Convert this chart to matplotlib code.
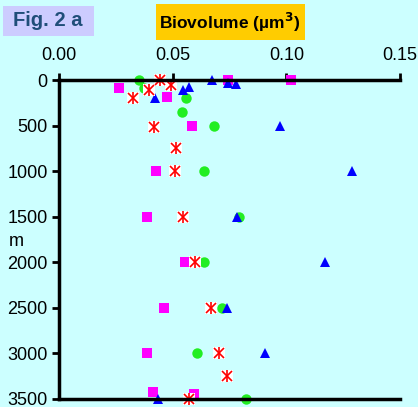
import matplotlib.pyplot as plt
from matplotlib.patches import Rectangle

plt.rcParams['font.family'] = ['Liberation Sans', 'DejaVu Sans']

# Green circles
green_x = [0.035, 0.0375, 0.056, 0.054, 0.068, 0.064, 0.079, 0.064, 0.0716, 0.0606, 0.0823]
green_y = [0, 90, 200, 350, 500, 1000, 1500, 2000, 2500, 3000, 3500]

# Magenta squares
mag_x = [0.0265, 0.0745, 0.102, 0.0474, 0.0584, 0.0427, 0.0386, 0.0554, 0.0463, 0.0386, 0.0415, 0.0594]
mag_y = [85, 0, 0, 190, 500, 1000, 1500, 2000, 2500, 3000, 3420, 3450]

# Blue triangles
blue_x = [0.0672, 0.0745, 0.0779, 0.0547, 0.0572, 0.0422, 0.0972, 0.1289, 0.0781, 0.117, 0.0738, 0.0906, 0.0437]
blue_y = [0, 30, 45, 110, 80, 200, 500, 1000, 1500, 2000, 2500, 3000, 3500]

# Red asterisks
red_x = [0.0444, 0.0491, 0.0396, 0.0327, 0.0417, 0.0516, 0.0509, 0.0547, 0.0598, 0.0667, 0.0704, 0.0738, 0.0573]
red_y = [0, 50, 110, 200, 510, 750, 1000, 1500, 2000, 2500, 3000, 3250, 3500]

bg = '#CCFFFF'
fig = plt.figure(figsize=(4.18, 4.07), dpi=100, facecolor=bg)
ax = fig.add_axes([0.141, 0.0197, 0.816, 0.7833], facecolor=bg)

ax.plot(green_x, green_y, 'o', color='#22EE22', markersize=7.5, markeredgewidth=0, clip_on=False)
ax.plot(mag_x, mag_y, 's', color='#FF00FF', markersize=6.5, markeredgewidth=0, clip_on=False)
ax.plot(blue_x, blue_y, '^', color='#0000FF', markersize=7.5, markeredgewidth=0, clip_on=False)
ax.plot(red_x, red_y, 's', color='white', markersize=9, markeredgewidth=0, clip_on=False)
ax.plot(red_x, red_y, 'x', color='#FF0000', markersize=6.5, markeredgewidth=1.2, clip_on=False)
ax.plot(red_x, red_y, '|', color='#FF0000', markersize=8, markeredgewidth=1.2, clip_on=False)

ax.set_xlim(0, 0.15)
ax.set_ylim(3500, 0)
ax.set_xticks([0, 0.05, 0.10, 0.15])
ax.set_xticklabels(['0.00', '0.05', '0.10', '0.15'])
ax.set_yticks(range(0, 3501, 500))
ax.xaxis.tick_top()
ax.tick_params(axis='both', labelsize=13, width=2, length=5, color='black')
ax.tick_params(axis='x', pad=6.5)
ax.tick_params(axis='y', pad=3)

for side in ['top', 'left', 'bottom']:
    ax.spines[side].set_linewidth(2.5)
ax.spines['right'].set_visible(False)

fig.text(9 / 418, 1 - 242 / 407, 'm', fontsize=13, ha='left', va='center')

fig.patches.append(Rectangle((3 / 418, 1 - 36 / 407), 91 / 418, 30 / 407,
                             transform=fig.transFigure, facecolor='#CCCCFF', edgecolor='none'))
fig.text(48 / 418, 1 - 21 / 407, 'Fig. 2 a', fontsize=14.5, fontweight='bold',
         color='#1F4E79', ha='center', va='center')

fig.patches.append(Rectangle((156 / 418, 1 - 40 / 407), 149 / 418, 36 / 407,
                             transform=fig.transFigure, facecolor='#FFCC00', edgecolor='none'))
fig.text(230 / 418, 1 - 22 / 407, r'Biovolume (µm$^\mathbf{3}$)', fontsize=12.5, fontweight='bold',
         color='black', ha='center', va='center')

plt.savefig('out.png', dpi=100, facecolor=bg)
